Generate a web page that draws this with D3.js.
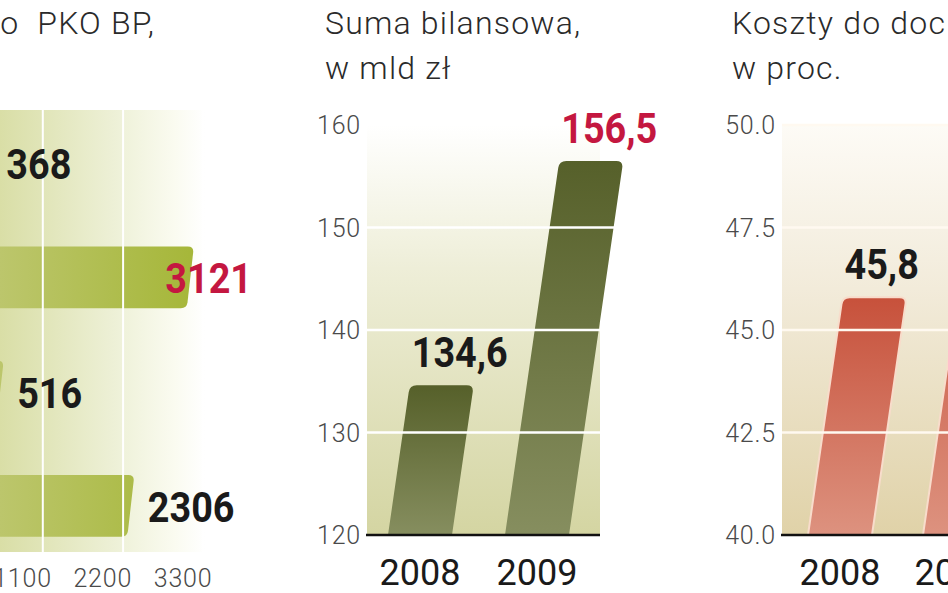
<!DOCTYPE html>
<html><head><meta charset="utf-8">
<script src="https://cdn.jsdelivr.net/npm/d3@7"></script>
<style>
html,body{margin:0;padding:0;background:#fff;overflow:hidden}
svg{display:block}
text{white-space:pre}
</style></head><body>
<svg id="c" width="948" height="593"></svg>
<script>
// ---------- DATA ----------
const profitCategories = ["IV kw. 2008", "2008", "IV kw. 2009", "2009"];
const profitValues = [368, 3121, 516, 2306];
const profitTicks = [1100, 2200, 3300];
const profitTitle = ["Zysk netto  PKO BP,"];

const years = ["2008", "2009"];
const assetsValues = [134.6, 156.5];
const assetsTicks = [120, 130, 140, 150, 160];
const assetsTitle = ["Suma bilansowa,", "w mld zł"];

const costIncomeValues = [45.8, 47.3];
const costIncomeTicks = [40.0, 42.5, 45.0, 47.5, 50.0];
const costIncomeTitle = ["Koszty do dochodów,", "w proc."];

// ---------- SETUP ----------
const svg = d3.select("#c");
const defs = svg.append("defs");
const LIGHT = "Roboto, 'Open Sans', 'DejaVu Sans', sans-serif";
const BOLD = "Roboto, 'DejaVu Sans', sans-serif";
const RED = "#c41740", BLACK = "#1a1a1a";
const fmtComma = v => String(v).replace(".", ",");
const P = p => p[0].toFixed(2) + " " + p[1].toFixed(2);

function grad(id, x1, y1, x2, y2, stops, user) {
  const g = defs.append("linearGradient").attr("id", id)
    .attr("x1", x1).attr("y1", y1).attr("x2", x2).attr("y2", y2);
  if (user) g.attr("gradientUnits", "userSpaceOnUse");
  stops.forEach(s => g.append("stop").attr("offset", s[0]).attr("stop-color", s[1]));
}
function unit(a, b) { const dx = b[0] - a[0], dy = b[1] - a[1], l = Math.hypot(dx, dy); return [dx / l, dy / l]; }
const add = (p, u, k) => [p[0] + u[0] * k, p[1] + u[1] * k];

// vertical slanted bar with rounded top corners
function slantV(bx, w, by, ty, slope, r) {
  const d = slope * (by - ty);
  const TL = [bx + d, ty], TR = [bx + w + d, ty], BL = [bx, by], BR = [bx + w, by];
  const uL = unit(TL, BL), uR = unit(TR, BR);
  return "M" + P(BL) + " L" + P(add(TL, uL, r)) + " Q" + P(TL) + " " + P([TL[0] + r, TL[1]]) +
    " L" + P([TR[0] - r, TR[1]]) + " Q" + P(TR) + " " + P(add(TR, uR, r)) + " L" + P(BR) + " Z";
}
// horizontal bar with slanted, rounded right end
function slantH(x0, xe, y0, h, s, r) {
  const TR = [xe + s, y0], BR = [xe - s, y0 + h];
  const u = unit(TR, BR);
  return "M" + P([x0, y0]) + " L" + P([TR[0] - r, TR[1]]) + " Q" + P(TR) + " " + P(add(TR, u, r)) +
    " L" + P(add(BR, u, -r)) + " Q" + P(BR) + " " + P([BR[0] - r, BR[1]]) + " L" + P([x0, y0 + h]) + " Z";
}
function valueLabel(g, x, y, txt, color) {
  return g.append("text").attr("transform", `translate(${x},${y}) scale(0.9,1)`)
    .attr("font-family", BOLD).attr("font-weight", 700).attr("font-size", 42)
    .attr("fill", color).text(txt);
}
function title(lines, x, anchor) {
  lines.forEach((l, i) => svg.append("text").attr("x", x).attr("y", 34 + i * 45)
    .attr("font-family", LIGHT).attr("font-weight", 300).attr("font-size", 32)
    .attr("letter-spacing", 1.2)
    .attr("fill", "#2a2a2a").attr("text-anchor", anchor || "start").text(l));
}
function tickText(g, x, y, txt, anchor) {
  return g.append("text").attr("x", x).attr("y", y).attr("text-anchor", anchor)
    .attr("font-family", LIGHT).attr("font-weight", 300).attr("font-size", 25)
    .attr("letter-spacing", 0.8).attr("fill", "#4a4a4a").text(txt);
}

// ---------- LEFT PANEL: horizontal bars ----------
(function () {
  const g = svg.append("g");
  const x = d3.scaleLinear().domain([0, 3300]).range([-37.5, 203.4]);
  const y = d3.scaleBand().domain(profitCategories).range([106, 563]).paddingInner(0.46).paddingOuter(0.23);
  grad("bgL", 0, 0, 205, 0, [[0, "#d9dea6"], [0.55, "#edf0d6"], [0.85, "#fafbf0"], [1, "#ffffff"]], true);
  grad("barL", 0, 0, 190, 0, [[0, "#bcc66c"], [1, "#a6b73a"]], true);
  g.append("rect").attr("x", 0).attr("y", 110).attr("width", 205).attr("height", 442).attr("fill", "url(#bgL)");
  const maxV = d3.max(profitValues);
  profitCategories.forEach((c, i) => {
    g.append("path").attr("d", slantH(x(0), x(profitValues[i]), y(c), y.bandwidth(), 3.5, 6)).attr("fill", "url(#barL)");
  });
  profitTicks.forEach(t => g.append("line").attr("x1", x(t)).attr("x2", x(t)).attr("y1", 110).attr("y2", 552)
    .attr("stroke", "#fff").attr("stroke-width", 2));
  profitTicks.forEach(t => tickText(g, x(t) + 9, 587, String(t), "end"));
  profitCategories.forEach((c, i) => {
    const v = profitValues[i];
    const yy = y(c) + y.bandwidth() / 2 + 16;
    const lab = valueLabel(g, 0, yy, String(v), v === maxV ? RED : BLACK);
    const w = lab.node().getComputedTextLength() * 0.9;
    let lx = x(v) + 17;
    if (lx + w > 252) lx = 252 - w;
    lab.attr("transform", `translate(${lx},${yy}) scale(0.9,1)`);
  });
  title(profitTitle, 155, "end");
})();

// ---------- VERTICAL PANELS ----------
function vPanel(cfg) {
  const g = svg.append("g");
  const y = d3.scaleLinear().domain(cfg.domain).range([535, 125]);
  const x = d3.scaleBand().domain(years).range(cfg.bandRange)
    .paddingInner(cfg.pi).paddingOuter(cfg.pi / 2);
  grad(cfg.id + "bg", 0, 125, 0, 535, cfg.bgStops, true);
  grad(cfg.id + "bar", 0, 0, 0, 1, cfg.barStops, false);
  g.append("rect").attr("x", cfg.left).attr("y", 125).attr("width", cfg.right - cfg.left).attr("height", 410)
    .attr("fill", `url(#${cfg.id}bg)`);
  const maxV = d3.max(cfg.values);
  years.forEach((yr, i) => {
    g.append("path").attr("d", slantV(x(yr), x.bandwidth(), 535, y(cfg.values[i]), 0.145, 7))
      .attr("fill", `url(#${cfg.id}bar)`)
      .attr("stroke", cfg.barStroke || "none").attr("stroke-width", 2);
  });
  cfg.ticks.slice(1).forEach(t => g.append("line").attr("x1", cfg.left).attr("x2", cfg.right + 30)
    .attr("y1", y(t)).attr("y2", y(t)).attr("stroke", cfg.gridColor).attr("stroke-width", 2.5));
  g.append("line").attr("x1", cfg.left - 1).attr("x2", cfg.right).attr("y1", 535).attr("y2", 535)
    .attr("stroke", "#111").attr("stroke-width", 2.5);
  cfg.ticks.forEach(t => tickText(g, cfg.left - 6, y(t), cfg.tickFmt(t), "end").attr("dy", "0.36em"));
  years.forEach(yr => g.append("text").attr("x", x(yr) + x.bandwidth() / 2).attr("y", 585)
    .attr("text-anchor", "middle").attr("font-family", LIGHT).attr("font-weight", 400).attr("font-size", 36)
    .attr("fill", BLACK).text(yr));
  years.forEach((yr, i) => {
    const v = cfg.values[i];
    const ty = y(v);
    const d = 0.145 * (535 - ty);
    valueLabel(g, x(yr) + d + 2, ty - 18, fmtComma(v), v === maxV ? RED : BLACK);
  });
  title(cfg.title, cfg.titleX);
}

vPanel({
  id: "m", domain: [120, 160], ticks: assetsTicks, values: assetsValues, tickFmt: d3.format("d"),
  left: 367, right: 600, bandRange: [361.5, 595.5], pi: 1 - 64 / 117,
  bgStops: [[0, "#ffffff"], [0.35, "#eeeed8"], [1, "#d4d5a2"]],
  barStops: [[0, "#56602a"], [1, "#868e5f"]], gridColor: "#ffffff",
  title: assetsTitle, titleX: 325
});
vPanel({
  id: "r", domain: [40, 50], ticks: costIncomeTicks, values: costIncomeValues, tickFmt: d3.format(".1f"),
  left: 782, right: 948, bandRange: [782.5, 1012.5], pi: 1 - 64 / 115,
  bgStops: [[0, "#fdfbf6"], [0.4, "#f2ebda"], [1, "#e0d2a8"]],
  barStops: [[0, "#c7513b"], [1, "#dd927f"]], barStroke: "#f8dccb", gridColor: "#fff9f0",
  title: costIncomeTitle, titleX: 732
});
</script>
</body></html>
